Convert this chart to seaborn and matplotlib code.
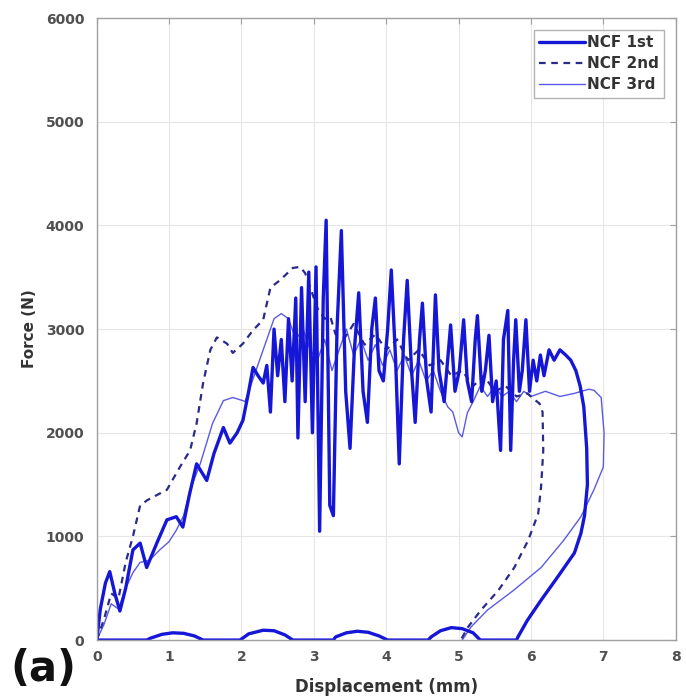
import matplotlib
matplotlib.use("Agg")
import matplotlib.pyplot as plt
import seaborn as sns
import pandas as pd

# ---- data ----
x_1st = [0.00, 0.05, 0.12, 0.18, 0.25, 0.32, 0.40, 0.50, 0.60, 0.69, 0.83, 0.97, 1.10, 1.19,
         1.28, 1.38, 1.52, 1.62, 1.75, 1.84, 1.94, 2.02, 2.10, 2.16, 2.23, 2.30, 2.35, 2.40,
         2.45, 2.50, 2.55, 2.60, 2.65, 2.70, 2.75, 2.78, 2.83, 2.88, 2.93, 2.98, 3.03, 3.08,
         3.13, 3.17, 3.22, 3.27, 3.32, 3.38, 3.44, 3.50, 3.56, 3.62, 3.68, 3.74, 3.80, 3.85,
         3.90, 3.96, 4.02, 4.07, 4.13, 4.18, 4.24, 4.29, 4.35, 4.40, 4.46, 4.50, 4.56, 4.62,
         4.68, 4.73, 4.80, 4.86, 4.89, 4.95, 5.01, 5.07, 5.12, 5.18, 5.23, 5.26, 5.32, 5.37,
         5.42, 5.47, 5.52, 5.58, 5.62, 5.68, 5.72, 5.76, 5.79, 5.84, 5.88, 5.93, 5.98, 6.03,
         6.08, 6.13, 6.18, 6.25, 6.32, 6.40, 6.48, 6.55, 6.62, 6.68, 6.73, 6.77, 6.78, 6.74,
         6.69, 6.60, 6.37, 6.14, 5.95, 5.82, 5.80, 5.30, 5.20, 5.05, 4.90, 4.75, 4.62, 4.58,
         4.02, 3.90, 3.75, 3.60, 3.45, 3.30, 3.27, 2.71, 2.60, 2.45, 2.30, 2.10, 1.98, 1.47,
         1.35, 1.20, 1.05, 0.90, 0.75, 0.69, 0.00]
y_1st = [0, 300, 550, 660, 450, 280, 500, 870, 935, 700, 935, 1160, 1190, 1090,
         1400, 1700, 1540, 1800, 2050, 1900, 2000, 2120, 2400, 2630, 2550, 2480, 2650, 2200,
         3000, 2550, 2900, 2300, 3100, 2500, 3300, 1950, 3400, 2300, 3550, 2000, 3600, 1050,
         3300, 4050, 1300, 1200, 3000, 3950, 2400, 1850, 2800, 3350, 2400, 2100, 3000, 3300,
         2600, 2500, 3000, 3570, 2700, 1700, 2900, 3470, 2600, 2100, 2900, 3250, 2500, 2200,
         3330, 2600, 2300, 2800, 3040, 2400, 2600, 3090, 2500, 2300, 2900, 3130, 2400, 2600,
         2940, 2300, 2500, 1830, 2900, 3180, 1830, 2700, 3090, 2400, 2600, 3090, 2400, 2700,
         2500, 2750, 2550, 2800, 2700, 2800, 2750, 2700, 2600, 2450, 2250, 1850, 1500, 1200,
         1030, 840, 610, 385, 190, 30, 0, 0, 70, 110, 120, 90, 30, 0,
         0, 40, 75, 85, 70, 30, 0, 0, 50, 90, 95, 60, 0, 0,
         40, 65, 70, 55, 20, 0, 0]

x_2nd = [0.00, 0.10, 0.20, 0.30, 0.40, 0.50, 0.60, 0.70, 0.78, 0.97, 1.15, 1.29, 1.38, 1.47,
         1.57, 1.66, 1.80, 1.88, 2.02, 2.16, 2.30, 2.40, 2.53, 2.71, 2.81, 2.88, 2.95, 3.05,
         3.15, 3.23, 3.30, 3.43, 3.55, 3.70, 3.85, 4.00, 4.15, 4.30, 4.45, 4.60, 4.75, 4.90,
         5.05, 5.20, 5.35, 5.50, 5.65, 5.80, 5.95, 6.05, 6.12, 6.16, 6.17, 6.14, 6.10, 5.96,
         5.77, 5.55, 5.31, 5.13, 5.03]
y_2nd = [0, 200, 450, 400, 750, 1000, 1300, 1350, 1380, 1450, 1670, 1830, 2090, 2480,
         2800, 2920, 2860, 2770, 2860, 2990, 3090, 3400, 3470, 3590, 3600, 3540, 3400, 3200,
         3100, 3115, 2950, 2920, 3050, 2850, 2950, 2800, 2900, 2700, 2800, 2650, 2700, 2550,
         2600, 2450, 2550, 2400, 2450, 2350, 2380, 2320, 2280, 2200, 1830, 1480, 1220, 960,
         700, 480, 290, 125, 0]

x_3rd = [0.00, 0.10, 0.20, 0.30, 0.40, 0.50, 0.60, 0.73, 0.87, 1.00, 1.10, 1.20, 1.29, 1.43,
         1.60, 1.75, 1.88, 2.02, 2.05, 2.15, 2.25, 2.35, 2.45, 2.55, 2.65, 2.75, 2.85, 2.95,
         3.05, 3.15, 3.25, 3.35, 3.45, 3.55, 3.65, 3.75, 3.85, 3.95, 4.05, 4.15, 4.25, 4.35,
         4.45, 4.55, 4.65, 4.75, 4.85, 4.92, 5.00, 5.05, 5.12, 5.20, 5.30, 5.40, 5.50, 5.60,
         5.70, 5.80, 5.90, 6.00, 6.20, 6.40, 6.60, 6.80, 6.87, 6.97, 7.01, 7.00, 6.87, 6.69,
         6.45, 6.14, 5.76, 5.40, 5.17, 5.05]
y_3rd = [0, 150, 350, 300, 500, 650, 750, 770, 870, 950, 1060, 1200, 1450, 1700,
         2090, 2310, 2340, 2310, 2300, 2500, 2700, 2900, 3100, 3150, 3100, 2900, 3000, 2800,
         2700, 2900, 2600, 2800, 3000, 2750, 2900, 2700, 2850, 2650, 2800, 2600, 2750, 2550,
         2700, 2500, 2600, 2400, 2250, 2200, 2000, 1960, 2190, 2300, 2450, 2350, 2450, 2350,
         2400, 2300, 2400, 2350, 2400, 2350, 2380, 2420, 2410, 2340, 2000, 1670, 1450, 1190,
         960, 700, 480, 290, 125, 0]

labels = ["NCF 1st", "NCF 2nd", "NCF 3rd"]
x_ticks = [0, 1, 2, 3, 4, 5, 6, 7, 8]
y_ticks = [0, 1000, 2000, 3000, 4000, 5000, 6000]

# ---- style ----
sns.set_style("whitegrid", {"grid.color": "#e6e6e6", "axes.edgecolor": "#a0a0a0",
                            "xtick.direction": "in", "ytick.direction": "in"})
plt.rcParams["font.family"] = ["DejaVu Sans"]

fig = plt.figure(figsize=(6.86, 6.98), dpi=100)
ax = fig.add_axes([0.141, 0.083, 0.844, 0.891])

df1 = pd.DataFrame({"x": x_1st, "y": y_1st})
df2 = pd.DataFrame({"x": x_2nd, "y": y_2nd})
df3 = pd.DataFrame({"x": x_3rd, "y": y_3rd})

sns.lineplot(data=df3, x="x", y="y", sort=False, estimator=None, ax=ax,
             color="#5a5ae6", linewidth=1.0, label=labels[2])
sns.lineplot(data=df2, x="x", y="y", sort=False, estimator=None, ax=ax,
             color="#2a2a8a", linewidth=1.6, linestyle=(0, (3, 2.5)), label=labels[1])
sns.lineplot(data=df1, x="x", y="y", sort=False, estimator=None, ax=ax,
             color="#1616d6", linewidth=2.4, label=labels[0])

ax.set_xlim(0, 8)
ax.set_ylim(0, 6000)
ax.set_xticks(x_ticks)
ax.set_yticks(y_ticks)
ax.set_xticklabels([str(v) for v in x_ticks], fontsize=10, fontweight="bold", color="#505050")
ax.set_yticklabels([str(v) for v in y_ticks], fontsize=10, fontweight="bold", color="#505050")
ax.tick_params(axis="x", length=4, color="#a0a0a0", top=True, pad=7)
ax.tick_params(axis="y", length=4, color="#a0a0a0", right=True, pad=9)
for s in ax.spines.values():
    s.set_color("#a0a0a0")
    s.set_linewidth(1.0)
ax.set_xlabel("Displacement (mm)", fontsize=12, fontweight="bold", color="#333333", labelpad=10)
ax.set_ylabel("Force (N)", fontsize=11, fontweight="bold", color="#333333", labelpad=6)

handles, labs = ax.get_legend_handles_labels()
order = [labs.index(l) for l in labels]
leg = ax.legend([handles[i] for i in order], [labs[i] for i in order], loc="upper right",
                prop={"weight": "bold", "size": 11}, frameon=True, fancybox=False,
                edgecolor="#a0a0a0", handlelength=3.0, borderpad=0.35, labelspacing=0.4,
                handletextpad=0.15, borderaxespad=0.75)
for t in leg.get_texts():
    t.set_color("#333333")

fig.text(0.015, 0.024, "(a)", fontsize=30, fontweight="bold", color="#111111")

fig.savefig("out.png", dpi=100, facecolor="white")
